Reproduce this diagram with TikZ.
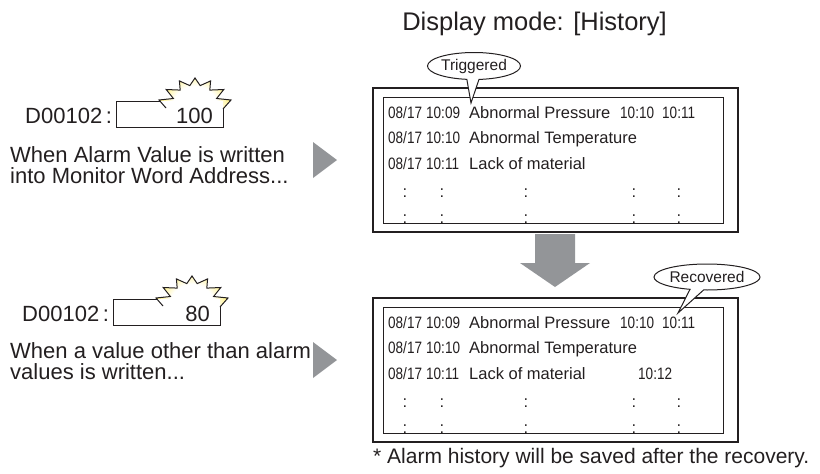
\documentclass[tikz,border=0pt]{standalone}
\usepackage{fontspec}
\setmainfont{Liberation Sans}
\newfontfamily\narrowfont[FakeStretch=0.82]{Liberation Sans}
\usetikzlibrary{shapes.callouts}
\definecolor{ink}{RGB}{35,31,32}
\definecolor{arrowgray}{RGB}{147,149,152}
\definecolor{glowy}{RGB}{255,234,70}
\pgfdeclareradialshading{burstglow}{\pgfpoint{0bp}{0bp}}{color(0bp)=(white); color(12bp)=(white); color(22bp)=(glowy); color(30bp)=(glowy!55); color(38bp)=(white); color(50bp)=(white)}
\newcommand{\fsz}[1]{\fontsize{#1}{#1}\selectfont}
\tikzset{
  lbl/.style={font=\fsz{22}, text=ink, inner sep=0pt, anchor=base west},
  rowtxt/.style={font=\fsz{16.5}, text=ink, inner sep=0pt, anchor=base west},
  tmtxt/.style={font=\narrowfont\fsz{16.5}, text=ink, inner sep=0pt, anchor=base west},
  dotcol/.style={font=\fsz{16.5}, text=ink, inner sep=0pt, anchor=base},
  outerframe/.style={draw=ink, line width=2.6pt, inner sep=0pt},
  innerframe/.style={draw=ink, line width=0.9pt, inner sep=0pt},
  boxline/.style={draw=ink, line width=1pt},
  bubble/.style={ellipse callout, draw=ink, line width=1pt, fill=white, inner sep=0pt, font=\fsz{15.5}, text=ink},
  playtri/.style={fill=arrowgray},
}
\newcommand{\starpath}{(166,108) -- (159,100) -- (173.4,98.5) -- (166.2,89.5) -- (180.2,90.1) -- (179.4,80.9) -- (189.8,85.6) -- (195,78) -- (200.2,85.6) -- (210.6,80.9) -- (209.8,90.1) -- (223.8,89.5) -- (216.6,98.5) -- (231,100) -- (223,109)}
\newcommand{\alarmbox}[2]{%
  \begin{scope}
    \clip \starpath -- cycle;
    \shade[shading=burstglow] (195,109) circle (48pt);
  \end{scope}
  \fill[white] (116,101) rectangle (223,127);
  \draw[boxline] (160,101) -- (116,101) -- (116,127) -- (223,127) -- (223,109);
  \draw[boxline, line join=miter] \starpath;
  \node[lbl] (addr#1) at (25,123) {D00102\,:};
  \node[lbl, anchor=base east] (val#1) at (213,123) {#2};
}
\begin{document}
\begin{tikzpicture}[x=1pt,y=-1pt]
\useasboundingbox (0,0) rectangle (820,474);
% title
\node[font=\fsz{25.5}, text=ink, inner sep=0pt, anchor=base east] (title) at (667,30) {Display mode: [History]};

% left side, upper
\alarmbox{A}{100}
\node[lbl] (textA1) at (10,162) {When Alarm Value is written};
\node[lbl] (textA2) at (10,183.5) {into Monitor Word Address...};
\fill[playtri] (313,142) -- (313,178) -- (337,160) -- cycle;

% left side, lower
\begin{scope}[shift={(-3,198)}]
\alarmbox{B}{80}
\end{scope}
\node[lbl] (textB1) at (10,358) {When a value other than alarm};
\node[lbl] (textB2) at (10,379.5) {values is written...};
\fill[playtri] (313,342) -- (313,378) -- (337,360) -- cycle;

% upper frame
\node[outerframe, minimum width=365pt, minimum height=144pt] (frameA) at (555.5,160) {};
\node[innerframe, minimum width=340pt, minimum height=126pt] (innerA) at (553,160) {};
\node[tmtxt] (a1d) at (388,118) {08/17};
\node[tmtxt] (a1t) at (426,118) {10:09};
\node[rowtxt] (a1m) at (469,118) {Abnormal Pressure};
\node[tmtxt] (a1r) at (620,118) {10:10};
\node[tmtxt] (a1s) at (662,118) {10:11};
\node[tmtxt] (a2d) at (388,143.5) {08/17};
\node[tmtxt] (a2t) at (426,143.5) {10:10};
\node[rowtxt] (a2m) at (469,143.5) {Abnormal Temperature};
\node[tmtxt] (a3d) at (388,169) {08/17};
\node[tmtxt] (a3t) at (426,169) {10:11};
\node[rowtxt] (a3m) at (469,169) {Lack of material};
\foreach \x [count=\i] in {405,442,526,634,679}{
  \node[dotcol] (adotu\i) at (\x,197) {:};
  \node[dotcol] (adotl\i) at (\x,223) {:};
}

% down arrow
\fill[arrowgray] (535,234) -- (575,234) -- (575,263) -- (590,263) -- (555,287) -- (520,263) -- (535,263) -- cycle;

% lower frame
\node[outerframe, minimum width=365pt, minimum height=144pt] (frameB) at (555.5,370) {};
\node[innerframe, minimum width=340pt, minimum height=126pt] (innerB) at (553,370) {};
\node[tmtxt] (b1d) at (388,328) {08/17};
\node[tmtxt] (b1t) at (426,328) {10:09};
\node[rowtxt] (b1m) at (469,328) {Abnormal Pressure};
\node[tmtxt] (b1r) at (620,328) {10:10};
\node[tmtxt] (b1s) at (662,328) {10:11};
\node[tmtxt] (b2d) at (388,353.5) {08/17};
\node[tmtxt] (b2t) at (426,353.5) {10:10};
\node[rowtxt] (b2m) at (469,353.5) {Abnormal Temperature};
\node[tmtxt] (b3d) at (388,379) {08/17};
\node[tmtxt] (b3t) at (426,379) {10:11};
\node[rowtxt] (b3m) at (469,379) {Lack of material};
\node[tmtxt] (b3r) at (638,379) {10:12};
\foreach \x [count=\i] in {405,442,526,634,679}{
  \node[dotcol] (bdotu\i) at (\x,407) {:};
  \node[dotcol] (bdotl\i) at (\x,433) {:};
}

% bubbles
\coordinate (trigtip) at (471,103);
\node[bubble, callout absolute pointer={(trigtip)}, minimum width=92pt, minimum height=27pt] (trig) at (474,66) {Triggered};
\coordinate (recvtip) at (678,313);
\node[bubble, callout absolute pointer={(recvtip)}, minimum width=91pt, minimum height=26pt] (recv) at (707,277) {Recovered};

% footnote
\node[font=\fsz{21}, text=ink, inner sep=0pt, anchor=base west] (note) at (373,463) {* Alarm history will be saved after the recovery.};
\end{tikzpicture}
\end{document}
